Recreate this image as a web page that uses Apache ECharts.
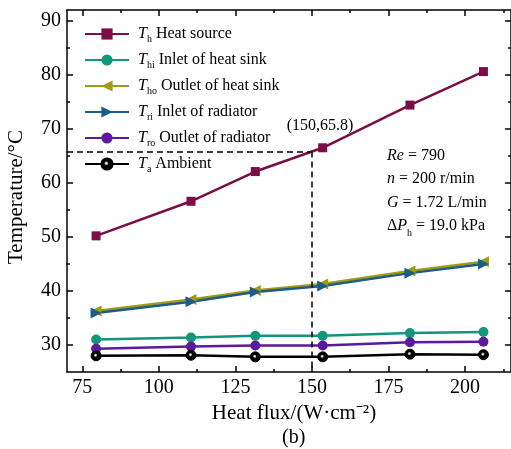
<!DOCTYPE html>
<html>
<head>
<meta charset="utf-8">
<script src="https://cdn.jsdelivr.net/npm/echarts@6/dist/echarts.min.js"></script>
<style>
  html, body { margin: 0; padding: 0; background: #fff; }
  #chart { width: 511px; height: 449px; }
</style>
</head>
<body>
<div id="chart"></div>
<script>
// Heat flux (W/cm^2) at each operating point
const heatFlux = [79.5, 110.5, 131.5, 153.5, 182, 206];
// Temperatures (°C)
const tHeatSource   = [50.2, 56.6, 62.1, 66.5, 74.4, 80.6];
const tSinkInlet    = [31.0, 31.4, 31.7, 31.7, 32.2, 32.4];
const tSinkOutlet   = [36.3, 38.4, 40.1, 41.3, 43.7, 45.4];
const tRadInlet     = [35.9, 38.0, 39.8, 40.9, 43.3, 45.0];
const tRadOutlet    = [29.3, 29.7, 29.9, 29.9, 30.5, 30.6];
const tAmbient      = [28.0, 28.1, 27.8, 27.8, 28.3, 28.2];

// Axis ticks
const xMajor = [75, 100, 125, 150, 175, 200];
const xMinor = [87.5, 112.5, 137.5, 162.5, 187.5, 212.5];
const yMajor = [30, 40, 50, 60, 70, 80, 90];
const yMinor = [35, 45, 55, 65, 75, 85];

// Highlighted point read at 150 W/cm^2
const guidePoint = [150, 65.8];

const FONT = 'Liberation Serif';
const pairs = (ys) => heatFlux.map((x, i) => [x, ys[i]]);

const chart = echarts.init(document.getElementById('chart'), null, { renderer: 'canvas' });

function tickAxis(kind, position, values, len, showLine, showLabel) {
  return {
    type: 'value',
    position: position,
    min: kind === 'x' ? 70 : 25,
    max: kind === 'x' ? 215 : 92,
    splitLine: { show: false },
    axisLine: { show: showLine, onZero: false, lineStyle: { color: '#000', width: 1.5 } },
    axisTick: { show: true, inside: true, length: len, customValues: values,
                lineStyle: { color: '#000', width: 1.5 } },
    axisLabel: { show: showLabel, customValues: values, color: '#000',
                 fontFamily: FONT, fontSize: 20, margin: 6 }
  };
}

const xAxes = [
  Object.assign(tickAxis('x', 'bottom', xMajor, 6, true, true), {
    name: 'Heat flux/(W·cm⁻²)', nameLocation: 'middle', nameGap: 30,
    nameTextStyle: { fontFamily: FONT, fontSize: 21, color: '#000', padding: [0, 0, 0, 10] }
  }),
  tickAxis('x', 'bottom', xMinor, 3, false, false),
  tickAxis('x', 'top', xMajor, 6, true, false),
  tickAxis('x', 'top', xMinor, 3, false, false)
];
const yAxes = [
  Object.assign(tickAxis('y', 'left', yMajor, 6, true, true), {
    name: 'Temperature/°C', nameLocation: 'middle', nameGap: 40,
    nameTextStyle: { fontFamily: FONT, fontSize: 21, color: '#000', padding: [0, 12, 0, 0] }
  }),
  tickAxis('y', 'left', yMinor, 3, false, false),
  tickAxis('y', 'right', yMajor, 6, true, false),
  tickAxis('y', 'right', yMinor, 3, false, false)
];

const rightTri = 'path://M0,0 L10,5 L0,10 Z';
const leftTri = 'path://M10,0 L0,5 L10,10 Z';
const ballFill = {
  type: 'radial', x: 0.45, y: 0.45, r: 0.5,
  colorStops: [
    { offset: 0, color: '#ffffff' },
    { offset: 0.15, color: '#cccccc' },
    { offset: 0.35, color: '#000000' },
    { offset: 1, color: '#000000' }
  ]
};

function lineSeries(name, data, color, symbol, size, extra) {
  return Object.assign({
    type: 'line', name: name, data: pairs(data),
    xAxisIndex: 0, yAxisIndex: 0,
    symbol: symbol, symbolSize: size, showAllSymbol: true,
    lineStyle: { color: color, width: 2.5 },
    itemStyle: { color: color, borderWidth: 0 },
    emphasis: { disabled: true },
    animation: false
  }, extra || {});
}

const series = [
  lineSeries('Th', tHeatSource, '#7b0e45', 'rect', 9, {
    markLine: {
      silent: true, symbol: 'none', animation: false,
      lineStyle: { color: '#000', type: [6, 4], width: 1.5 },
      label: { show: false },
      data: [
        [{ coord: [70, guidePoint[1]] }, { coord: guidePoint }],
        [{ coord: guidePoint }, { coord: [guidePoint[0], 25] }]
      ]
    },
    markPoint: {
      symbol: 'circle', symbolSize: 0, animation: false, silent: true,
      label: {
        show: true, position: 'inside', offset: [8, -26],
        formatter: '(' + guidePoint[0] + ',' + guidePoint[1] + ')',
        fontFamily: FONT, fontSize: 16, color: '#000'
      },
      data: [{ coord: guidePoint }]
    }
  }),
  lineSeries('Thi', tSinkInlet, '#12967a', 'circle', 10),
  lineSeries('Tho', tSinkOutlet, '#a09a14', leftTri, 11),
  lineSeries('Tri', tRadInlet, '#1c5c88', rightTri, 11),
  lineSeries('Tro', tRadOutlet, '#5a1a9e', 'circle', 10),
  lineSeries('Ta', tAmbient, '#000000', 'circle', 10, {
    itemStyle: { color: ballFill, borderColor: '#000', borderWidth: 1 }
  })
];

const legendText = {
  Th: ['h', 'Heat source'],
  Thi: ['hi', 'Inlet of heat sink'],
  Tho: ['ho', 'Outlet of heat sink'],
  Tri: ['ri', 'Inlet of radiator'],
  Tro: ['ro', 'Outlet of radiator'],
  Ta: ['a', 'Ambient']
};

chart.setOption({
  backgroundColor: '#fff',
  animation: false,
  grid: { left: 67, right: 0, top: 10, bottom: 77, containLabel: false, outerBoundsMode: 'none' },
  xAxis: xAxes,
  yAxis: yAxes,
  legend: {
    orient: 'vertical', left: 79, top: 19,
    itemWidth: 44, itemHeight: 14, itemGap: 6,
    selectedMode: false,
    data: ['Th', 'Thi', 'Tho', 'Tri', 'Tro', 'Ta'],
    formatter: (n) => '{i|T}{s|' + legendText[n][0] + '} ' + legendText[n][1],
    textStyle: {
      fontFamily: FONT, fontSize: 16, color: '#000', lineHeight: 20,
      padding: [0, 0, 0, 4],
      rich: {
        i: { fontFamily: FONT, fontSize: 16, fontStyle: 'italic', lineHeight: 20 },
        s: { fontFamily: FONT, fontSize: 10, lineHeight: 10, verticalAlign: 'bottom' }
      }
    }
  },
  graphic: [
    {
      type: 'text', left: 387, top: 144, silent: true,
      style: {
        text: '{i|Re} = 790\n{i|n} = 200 r/min\n{i|G} = 1.72 L/min\nΔ{i|P}{s|h} = 19.0 kPa',
        font: '16px "Liberation Serif"', fill: '#000', lineHeight: 23.5,
        rich: {
          i: { fontFamily: FONT, fontSize: 16, fontStyle: 'italic', lineHeight: 23.5 },
          s: { fontFamily: FONT, fontSize: 10, lineHeight: 10, verticalAlign: 'bottom' }
        }
      }
    },
    {
      type: 'text', left: 282, top: 428, silent: true,
      style: { text: '(b)', font: '20px "Liberation Serif"', fill: '#000' }
    }
  ],
  series: series
});
</script>
</body>
</html>
